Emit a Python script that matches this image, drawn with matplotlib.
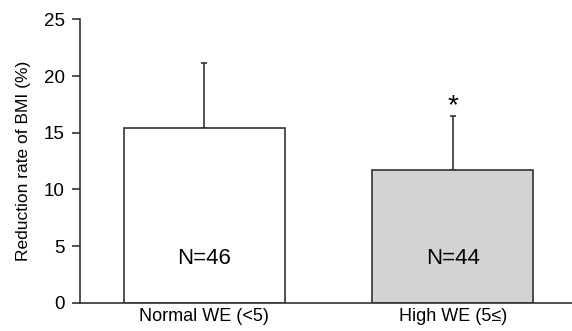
import matplotlib.pyplot as plt

plt.rcParams['font.family'] = ['Liberation Sans', 'DejaVu Sans']

groups = ['Normal WE (<5)', 'High WE (5≤)']
means = [15.4, 11.7]
sds = [5.75, 4.75]
n_labels = ['N=46', 'N=44']
colors = ['white', '#d3d3d3']
edge = '#333333'

fig = plt.figure(figsize=(5.72, 3.31), dpi=100)
ax = fig.add_axes([0.14, 0.0855, 0.86, 0.856])

x = list(range(len(groups)))
ax.bar(x, means, width=0.65, color=colors, edgecolor=edge, linewidth=1.2, zorder=2)
ax.errorbar(x, means, yerr=[[0, 0], sds], fmt='none', ecolor=edge,
            elinewidth=1.2, capsize=2, capthick=1.2, zorder=1)

for xi, lab in zip(x, n_labels):
    ax.text(xi, 3.9, lab, ha='center', va='center', fontsize=16)

# significance mark
ax.text(x[1], means[1] + sds[1] - 0.3, '*', ha='center', va='bottom', fontsize=20)

ax.set_xlim(-0.5, 1.48)
ax.set_ylim(0, 25)
ax.set_yticks([0, 5, 10, 15, 20, 25])
ax.set_xticks(x)
ax.set_xticklabels(groups, fontsize=13)
ax.set_ylabel('Reduction rate of BMI (%)', fontsize=12.5, labelpad=9)
ax.tick_params(axis='y', labelsize=13.5, length=6, width=1.2, color=edge, pad=5)
ax.tick_params(axis='x', length=0, pad=4)
for s in ['top', 'right']:
    ax.spines[s].set_visible(False)
for s in ['left', 'bottom']:
    ax.spines[s].set_color(edge)
    ax.spines[s].set_linewidth(1.2)

fig.savefig('out.png', dpi=100)
